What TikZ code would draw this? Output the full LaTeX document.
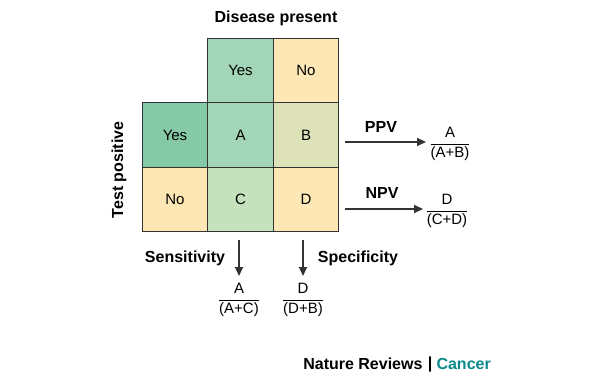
\documentclass[tikz,border=0pt]{standalone}
\usepackage{fontspec}
\usepackage{amsmath}
\setmainfont{Liberation Sans}
\usetikzlibrary{arrows.meta}
\definecolor{gdark}{HTML}{86C9A6}
\definecolor{gmid}{HTML}{A3D6B9}
\definecolor{glight}{HTML}{C5E2BD}
\definecolor{olive}{HTML}{DEE2B8}
\definecolor{cream}{HTML}{FDE8B5}
\definecolor{linec}{HTML}{333333}
\definecolor{teal}{HTML}{0A8A8C}
\begin{document}
\begin{tikzpicture}[x=1pt,y=-1pt,
  cell/.style={draw=linec,line width=0.8pt,minimum width=65.5pt,minimum height=64.5pt,inner sep=0pt,font=\fontsize{15}{17}\selectfont},
  hdr/.style={font=\fontsize{16}{18}\selectfont\bfseries},
  frac/.style={font=\fontsize{15}{17}\selectfont,inner sep=1pt},
  arr/.style={draw=linec,line width=1.8pt,-{Triangle[length=9pt,width=8pt]}}]
\useasboundingbox (0,0) rectangle (600,385);
\node[cell,fill=gmid]  (ty) at (240.5,70.5) {Yes};
\node[cell,fill=cream] (tn) at (306,70.5) {No};
\node[cell,fill=gdark] (ly) at (175,135) {Yes};
\node[cell,fill=gmid]  (A)  at (240.5,135) {A};
\node[cell,fill=olive] (B)  at (306,135) {B};
\node[cell,fill=cream] (ln) at (175,199.5) {No};
\node[cell,fill=glight](C)  at (240.5,199.5) {C};
\node[cell,fill=cream] (D)  at (306,199.5) {D};
\node[hdr] (dp) at (276,18) {Disease present};
\node[hdr,rotate=90] (tp) at (119,170) {Test positive};
% PPV / NPV
\node[frac] (ppvf) at (450,144) {$\dfrac{\text{A}}{\text{(A+B)}}$};
\node[frac] (npvf) at (447,211) {$\dfrac{\text{D}}{\text{(C+D)}}$};
\coordinate (ppvs) at (345,142);
\coordinate (npvs) at (345,209);
\coordinate (ppve) at (426,142);
\coordinate (npve) at (423,209);
\draw[arr] (ppvs) -- (ppve);
\draw[arr] (npvs) -- (npve);
\node[hdr] (ppv) at (381,127) {PPV};
\node[hdr] (npv) at (382,193) {NPV};
% sensitivity / specificity
\node[frac] (sensf) at (239,300) {$\dfrac{\text{A}}{\text{(A+C)}}$};
\node[frac] (specf) at (303,300) {$\dfrac{\text{D}}{\text{(D+B)}}$};
\coordinate (senss) at (239,240);
\coordinate (specs) at (303,240);
\coordinate (sense) at (239,276);
\coordinate (spece) at (303,276);
\draw[arr] (senss) -- (sense);
\draw[arr] (specs) -- (spece);
\node[hdr] (sens) at (185,258) {Sensitivity};
\node[hdr] (spec) at (358,258) {Specificity};
% credit
\node[hdr,anchor=east] (nr) at (426,364) {Nature Reviews};
\node[hdr,anchor=west,text=teal] (cn) at (433,364) {Cancer};
\node[hdr,text=black] (bar) at (430,364) {|};
\end{tikzpicture}
\end{document}
